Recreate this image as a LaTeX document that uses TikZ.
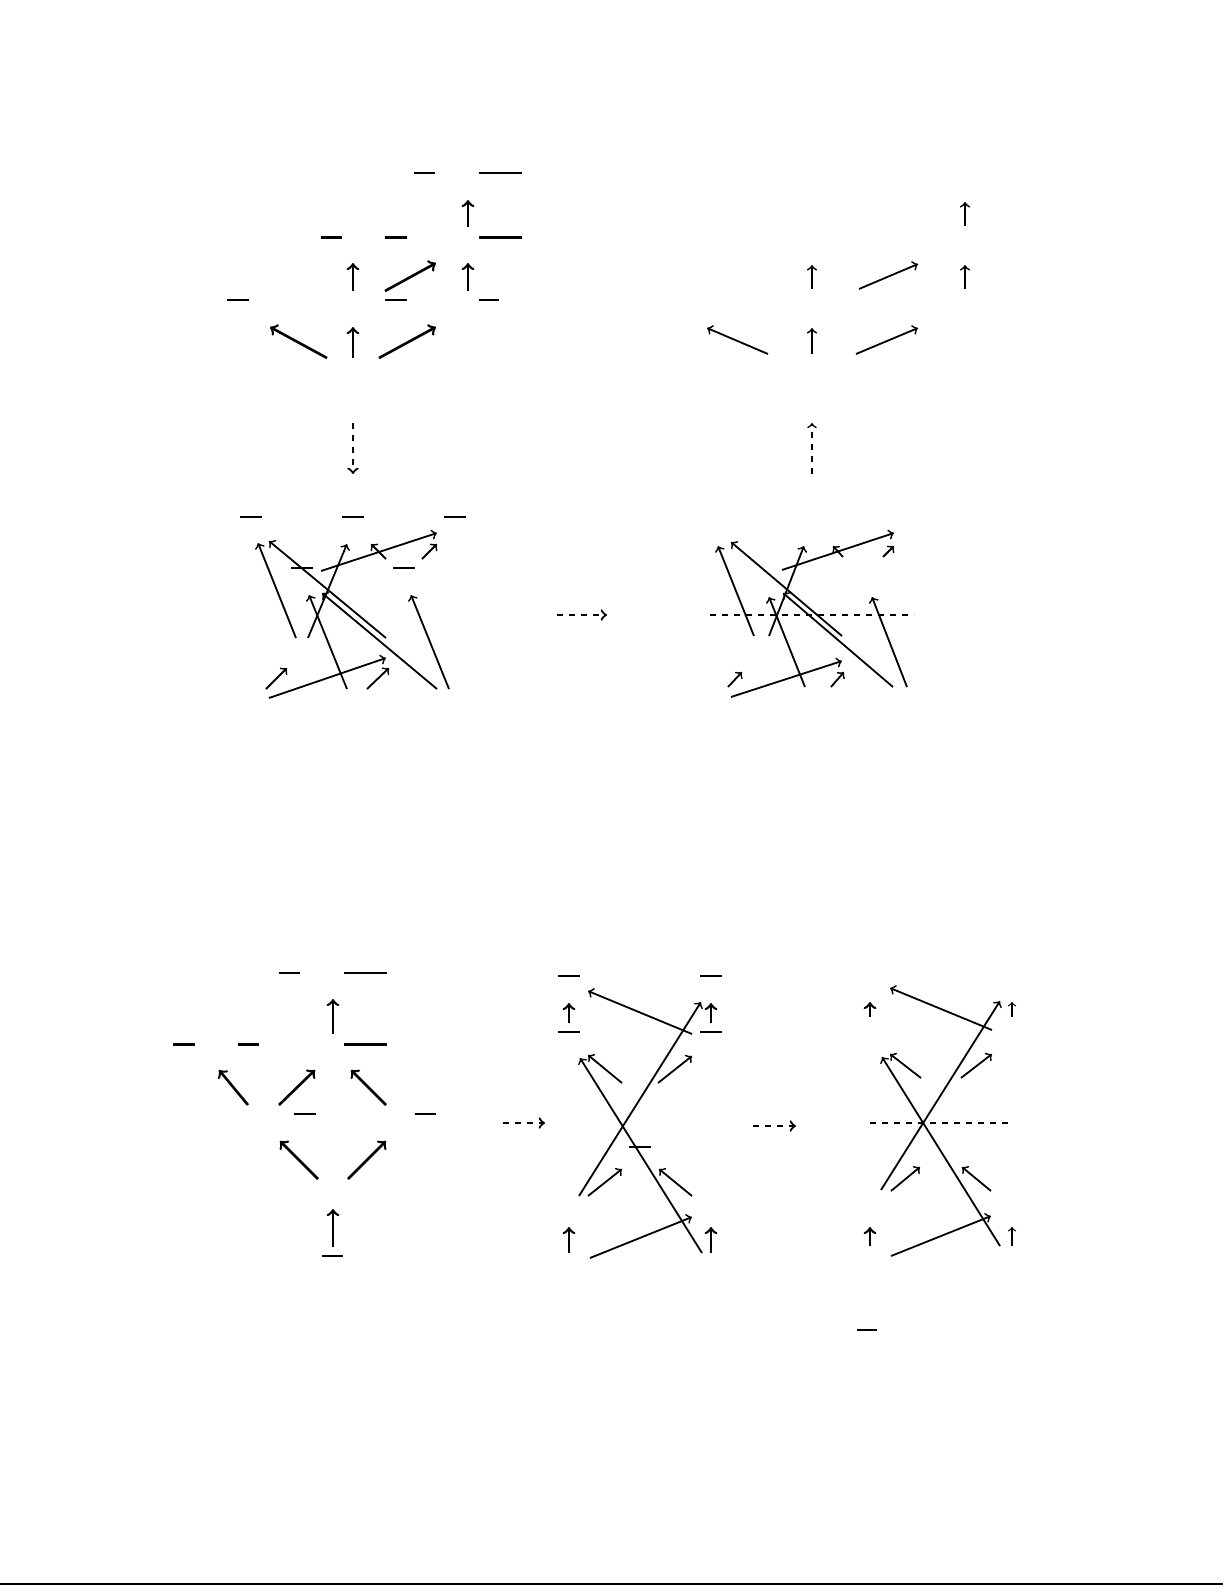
\documentclass[tikz,border=0pt]{standalone}
\usepackage{amsmath}
\usetikzlibrary{arrows}

\tikzset{
  arr/.style={->,line width=0.9pt},
  thk/.style={->,line width=1.3pt},
  ovl/.style={line width=0.8pt},
  ovlthk/.style={line width=1.5pt},
  dsh/.style={->,dashed,line width=1.1pt},
  cut/.style={dashed,line width=0.6pt}
}

\begin{document}
\begin{tikzpicture}[x=0.5pt,y=-0.5pt]
      \useasboundingbox (0,0) rectangle (1225,1585);

      % top left lattice
      \coordinate (a1s) at (468,227); \coordinate (a1t) at (468,200);
      \coordinate (a2s) at (353,291); \coordinate (a2t) at (353,263);
      \coordinate (a3s) at (385,291); \coordinate (a3t) at (436,263);
      \coordinate (a4s) at (468,291); \coordinate (a4t) at (468,263);
      \coordinate (a5s) at (327,358); \coordinate (a5t) at (270,327);
      \coordinate (a6s) at (353,358); \coordinate (a6t) at (353,327);
      \coordinate (a7s) at (379,358); \coordinate (a7t) at (436,327);
      \draw[ovl] (414,173) -- (435,173);
      \draw[ovl] (479,173) -- (522,173);
      \draw[ovlthk] (321,237) -- (342,237);
      \draw[ovlthk] (385,237) -- (407,237);
      \draw[ovlthk] (479,237) -- (522,237);
      \draw[ovl] (227,300) -- (249,300);
      \draw[ovl] (385,300) -- (407,300);
      \draw[ovl] (479,300) -- (499,300);
      \foreach \i in {1,...,7}
        \draw[thk] (a\i s) -- (a\i t);

      % top right lattice
      \coordinate (b1s) at (965,226); \coordinate (b1t) at (965,202);
      \coordinate (b2s) at (812,289); \coordinate (b2t) at (812,265);
      \coordinate (b3s) at (859,289); \coordinate (b3t) at (918,264);
      \coordinate (b4s) at (965,289); \coordinate (b4t) at (965,265);
      \coordinate (b5s) at (768,354); \coordinate (b5t) at (707,328);
      \coordinate (b6s) at (812,354); \coordinate (b6t) at (812,328);
      \coordinate (b7s) at (856,354); \coordinate (b7t) at (918,328);
      \foreach \i in {1,...,7}
        \draw[arr] (b\i s) -- (b\i t);

      % vertical maps
      \coordinate (d1s) at (353,423); \coordinate (d1t) at (353,474);
      \coordinate (d2s) at (812,474); \coordinate (d2t) at (812,423);
      \draw[dsh] (d1s) -- (d1t);
      \draw[->,dashed,line width=0.8pt] (d2s) -- (d2t);

      % top tangle, left
      \draw[ovl] (240,517) -- (262,517);
      \draw[ovl] (342,517) -- (364,517);
      \draw[ovl] (444,517) -- (466,517);
      \draw[ovl] (291,568) -- (313,568);
      \draw[ovl] (393,568) -- (415,568);
      \coordinate (c1s) at (296,638);  \coordinate (c1t) at (258,543);
      \coordinate (c2s) at (386,638);  \coordinate (c2t) at (269,541);
      \coordinate (c3s) at (308,638);  \coordinate (c3t) at (347,544);
      \coordinate (c4s) at (321,571);  \coordinate (c4t) at (437,533);
      \coordinate (c5s) at (386,559);  \coordinate (c5t) at (371,544);
      \coordinate (c6s) at (422,559);  \coordinate (c6t) at (437,544);
      \coordinate (c7s) at (347,689);  \coordinate (c7t) at (309,595);
      \coordinate (c8s) at (437,689);  \coordinate (c8t) at (322,593);
      \coordinate (c9s) at (449,689);  \coordinate (c9t) at (411,595);
      \coordinate (c10s) at (266,689); \coordinate (c10t) at (287,668);
      \coordinate (c11s) at (269,698); \coordinate (c11t) at (386,658);
      \coordinate (c12s) at (367,689); \coordinate (c12t) at (389,668);
      \foreach \i in {1,...,12}
        \draw[arr] (c\i s) -- (c\i t);

      \coordinate (h1s) at (557,615); \coordinate (h1t) at (607,615);
      \draw[dsh] (h1s) -- (h1t);

      % top tangle, right
      \coordinate (cutl) at (710,615); \coordinate (cutr) at (914,615);
      \draw[cut] (cutl) -- (cutr);
      \coordinate (e1s) at (754,636);  \coordinate (e1t) at (718,546);
      \coordinate (e2s) at (842,636);  \coordinate (e2t) at (731,542);
      \coordinate (e3s) at (769,636);  \coordinate (e3t) at (804,546);
      \coordinate (e4s) at (782,570);  \coordinate (e4t) at (894,533);
      \coordinate (e5s) at (843,557);  \coordinate (e5t) at (833,546);
      \coordinate (e6s) at (883,557);  \coordinate (e6t) at (894,546);
      \coordinate (e7s) at (805,687);  \coordinate (e7t) at (769,597);
      \coordinate (e8s) at (893,687);  \coordinate (e8t) at (783,593);
      \coordinate (e9s) at (907,687);  \coordinate (e9t) at (872,597);
      \coordinate (e10s) at (728,687); \coordinate (e10t) at (742,672);
      \coordinate (e11s) at (731,697); \coordinate (e11t) at (842,661);
      \coordinate (e12s) at (831,687); \coordinate (e12t) at (844,672);
      \foreach \i in {1,...,12}
        \draw[arr] (e\i s) -- (e\i t);

      % bottom lattice
      \draw[ovl] (279,973) -- (300,973);
      \draw[ovl] (344,973) -- (387,973);
      \draw[ovlthk] (173,1044) -- (195,1044);
      \draw[ovlthk] (238,1044) -- (259,1044);
      \draw[ovlthk] (344,1044) -- (387,1044);
      \draw[ovl] (294,1114) -- (316,1114);
      \draw[ovl] (415,1114) -- (436,1114);
      \draw[ovl] (322,1256) -- (343,1256);
      \coordinate (f1s) at (333,1034); \coordinate (f1t) at (333,999);
      \coordinate (f2s) at (248,1105); \coordinate (f2t) at (219,1070);
      \coordinate (f3s) at (279,1105); \coordinate (f3t) at (315,1070);
      \coordinate (f4s) at (386,1105); \coordinate (f4t) at (351,1070);
      \coordinate (f5s) at (318,1179); \coordinate (f5t) at (280,1141);
      \coordinate (f6s) at (348,1179); \coordinate (f6t) at (386,1141);
      \coordinate (f7s) at (333,1247); \coordinate (f7t) at (333,1209);
      \foreach \i in {1,...,7}
        \draw[thk] (f\i s) -- (f\i t);

      \coordinate (h2s) at (503,1123); \coordinate (h2t) at (545,1123);
      \draw[dsh] (h2s) -- (h2t);

      % bottom tangle, middle
      \draw[ovl] (558,976) -- (580,976);
      \draw[ovl] (700,976) -- (722,976);
      \draw[ovl] (558,1032) -- (580,1032);
      \draw[ovl] (700,1032) -- (722,1032);
      \draw[ovl] (629,1147) -- (651,1147);
      \coordinate (g1s) at (569,1023);  \coordinate (g1t) at (569,1003);
      \coordinate (g2s) at (711,1023);  \coordinate (g2t) at (711,1003);
      \coordinate (g9s) at (569,1253);  \coordinate (g9t) at (569,1227);
      \coordinate (g10s) at (711,1253); \coordinate (g10t) at (711,1227);
      \draw[thk] (g1s) -- (g1t);
      \draw[thk] (g2s) -- (g2t);
      \draw[thk] (g9s) -- (g9t);
      \draw[thk] (g10s) -- (g10t);
      \coordinate (g3s) at (692,1034);  \coordinate (g3t) at (588,991);
      \coordinate (g4s) at (579,1196);  \coordinate (g4t) at (701,1002);
      \coordinate (g5s) at (702,1253);  \coordinate (g5t) at (580,1058);
      \coordinate (g6s) at (622,1083);  \coordinate (g6t) at (588,1055);
      \coordinate (g7s) at (658,1083);  \coordinate (g7t) at (692,1056);
      \coordinate (g8s) at (588,1196);  \coordinate (g8t) at (622,1169);
      \coordinate (g11s) at (692,1196); \coordinate (g11t) at (659,1169);
      \coordinate (g12s) at (590,1258); \coordinate (g12t) at (692,1217);
      \foreach \i in {3,...,8,11,12}
        \draw[arr] (g\i s) -- (g\i t);

      \coordinate (h3s) at (753,1126); \coordinate (h3t) at (796,1126);
      \draw[dsh] (h3s) -- (h3t);

      % bottom tangle, right
      \coordinate (cut2l) at (870,1123); \coordinate (cut2r) at (1008,1123);
      \draw[cut] (cut2l) -- (cut2r);
      \coordinate (k1s) at (870,1017);  \coordinate (k1t) at (870,1002);
      \coordinate (k9s) at (870,1246);  \coordinate (k9t) at (870,1227);
      \draw[thk] (k1s) -- (k1t);
      \draw[thk] (k9s) -- (k9t);
      \coordinate (k2s) at (1012,1017); \coordinate (k2t) at (1012,1002);
      \coordinate (k10s) at (1012,1246); \coordinate (k10t) at (1012,1227);
      \draw[->,line width=0.6pt] (k2s) -- (k2t);
      \draw[->,line width=0.6pt] (k10s) -- (k10t);
      \coordinate (k3s) at (992,1030);  \coordinate (k3t) at (890,988);
      \coordinate (k4s) at (881,1190);  \coordinate (k4t) at (1000,1001);
      \coordinate (k5s) at (1000,1246); \coordinate (k5t) at (882,1057);
      \coordinate (k6s) at (921,1078);  \coordinate (k6t) at (890,1054);
      \coordinate (k7s) at (961,1078);  \coordinate (k7t) at (992,1054);
      \coordinate (k8s) at (891,1191);  \coordinate (k8t) at (920,1167);
      \coordinate (k11s) at (991,1191); \coordinate (k11t) at (962,1167);
      \coordinate (k12s) at (891,1256); \coordinate (k12t) at (991,1216);
      \foreach \i in {3,...,8,11,12}
        \draw[arr] (k\i s) -- (k\i t);
      \draw[ovl] (857,1330) -- (877,1330);

      % page rule
      \draw[line width=0.8pt] (0,1584) -- (1223,1584);
    \end{tikzpicture}
\end{document}
